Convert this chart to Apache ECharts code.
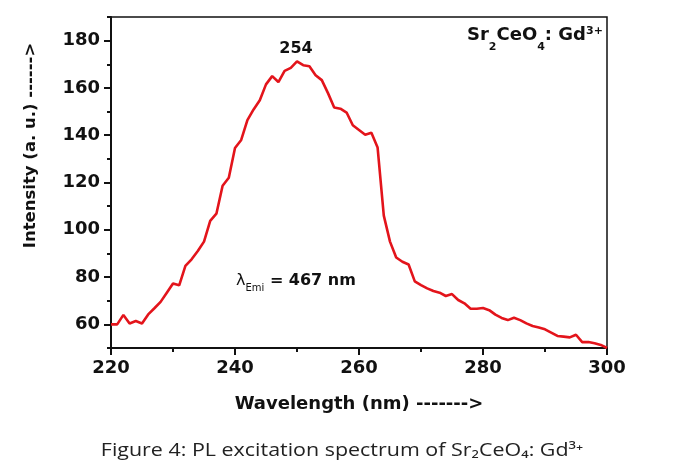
<!DOCTYPE html>
<html>
<head>
<meta charset="utf-8">
<script src="https://cdn.jsdelivr.net/npm/echarts@6/dist/echarts.min.js"></script>
<style>
html,body{margin:0;padding:0;background:#fff;}
#chart{width:685px;height:467px;}
</style>
</head>
<body>
<div id="chart"></div>
<script>
// ---- data ----
var wavelengths = [220,221,222,223,224,225,226,227,228,229,230,231,232,233,234,235,236,237,238,239,240,
  241,242,243,244,245,246,247,248,249,250,251,252,253,254,255,256,257,258,259,260,
  261,262,263,264,265,266,267,268,269,270,271,272,273,274,275,276,277,278,279,280,
  281,282,283,284,285,286,287,288,289,290,291,292,293,294,295,296,297,298,299,300];
var intensity = [60,60,64,60.4,61.4,60.4,64.2,66.8,69.5,73.4,77.3,76.5,84.7,87.5,91,95,103.8,106.8,118.6,122,134.6,
  138,146.4,150.9,154.8,161.5,165,162.5,167.2,168.5,171.2,169.6,169.2,165.4,163.3,157.8,151.7,151.2,149.6,144.2,142.2,
  140.2,141,134.8,106,95,88.3,86.5,85.3,78.2,76.6,75.2,74.1,73.4,72,72.8,70.3,68.9,66.6,66.6,66.9,
  66,64.1,62.7,61.8,62.8,61.8,60.4,59.3,58.7,57.9,56.5,55.1,54.8,54.5,55.6,52.5,52.5,52,51.3,50];
var yMajorTicks = [60,80,100,120,140,160,180];
var yMinorTicks = [50,70,90,110,130,150,170,190];
var xAxisName = 'Wavelength (nm) ------->';
var yAxisName = 'Intensity (a. u.) ------>';
var peakLabel = '254';
var caption = 'Figure 4: PL excitation spectrum of Sr\u2082CeO\u2084: Gd\u00b3\u207a';

var seriesData = wavelengths.map(function (w, i) { return [w, intensity[i]]; });

var FONT = 'DejaVu Sans';
var chart = echarts.init(document.getElementById('chart'), null, {renderer: 'canvas'});
chart.setOption({
  animation: false,
  backgroundColor: '#fff',
  grid: {left: 111, right: 78, top: 17, bottom: 119, show: true, borderColor: '#111', borderWidth: 1.5, backgroundColor: 'transparent'},
  xAxis: [{
    type: 'value', min: 220, max: 300, interval: 20,
    name: xAxisName, nameLocation: 'middle', nameGap: 47,
    nameTextStyle: {fontFamily: FONT, fontWeight: 'bold', fontSize: 18, color: '#111'},
    axisLine: {show: true, lineStyle: {color: '#111', width: 2}},
    axisTick: {show: true, inside: false, length: 7, lineStyle: {color: '#111', width: 2}},
    minorTick: {show: true, splitNumber: 2, length: 4, lineStyle: {color: '#111', width: 2}},
    axisLabel: {fontFamily: FONT, fontWeight: 'bold', fontSize: 18, color: '#111', margin: 11},
    splitLine: {show: false}
  }],
  yAxis: [{
    type: 'value', min: 50, max: 190, interval: 10, position: 'left',
    name: yAxisName, nameLocation: 'middle', nameGap: 72, nameRotate: 90,
    nameTextStyle: {fontFamily: FONT, fontWeight: 'bold', fontSize: 16.5, color: '#111', padding: [0, 0, 0, 74]},
    axisLine: {show: true, lineStyle: {color: '#111', width: 2}},
    axisTick: {show: true, inside: false, length: 7, customValues: yMajorTicks, lineStyle: {color: '#111', width: 2}},
    axisLabel: {fontFamily: FONT, fontWeight: 'bold', fontSize: 18, color: '#111', margin: 11, customValues: yMajorTicks},
    splitLine: {show: false}
  }, {
    type: 'value', min: 50, max: 190, interval: 10, position: 'left',
    axisLine: {show: false},
    axisTick: {show: true, inside: false, length: 4, customValues: yMinorTicks, lineStyle: {color: '#111', width: 2}},
    axisLabel: {show: false},
    splitLine: {show: false}
  }],
  series: [{
    type: 'line', xAxisIndex: 0, yAxisIndex: 0,
    data: seriesData, showSymbol: false, smooth: false,
    lineStyle: {color: '#e3141b', width: 2.6},
    itemStyle: {color: '#e3141b'}
  }],
  graphic: [
    {type: 'text', x: 296, y: 41, style: {text: peakLabel, fontFamily: FONT, fontWeight: 'bold', fontSize: 16, fill: '#111', align: 'center', verticalAlign: 'top'}},
    {type: 'text', x: 467, y: 31, style: {
      text: '{m|Sr}{s|2}{m|CeO}{s|4}{m|: Gd}{p|3+}',
      rich: {
        m: {fontFamily: FONT, fontWeight: 'bold', fontSize: 18, lineHeight: 18, padding: [0, 0, 9, 0], verticalAlign: 'middle', fill: '#111'},
        s: {fontFamily: FONT, fontWeight: 'bold', fontSize: 11, lineHeight: 14, padding: [14, 0, 0, 0], verticalAlign: 'middle', fill: '#111'},
        p: {fontFamily: FONT, fontWeight: 'bold', fontSize: 11, lineHeight: 11, padding: [0, 0, 18, 0], verticalAlign: 'middle', fill: '#111'}
      }
    }},
    {type: 'text', x: 236, y: 275, style: {
      text: '{l|\u03bb}{s|Emi}{m| = 467 nm}',
      rich: {
        l: {fontFamily: FONT, fontSize: 16, lineHeight: 18, padding: [0, 0, 6, 0], verticalAlign: 'middle', fill: '#111'},
        m: {fontFamily: FONT, fontWeight: 'bold', fontSize: 16, lineHeight: 18, padding: [0, 0, 6, 0], verticalAlign: 'middle', fill: '#111'},
        s: {fontFamily: FONT, fontSize: 10, lineHeight: 12, padding: [9, 0, 0, 0], verticalAlign: 'middle', fill: '#111'}
      }
    }},
    {type: 'text', x: 342, y: 442, scaleX: 1.225, style: {text: caption, fontFamily: 'Open Sans', fontSize: 17.5, fill: '#222', align: 'center', verticalAlign: 'top'}}
  ]
});
</script>
</body>
</html>
